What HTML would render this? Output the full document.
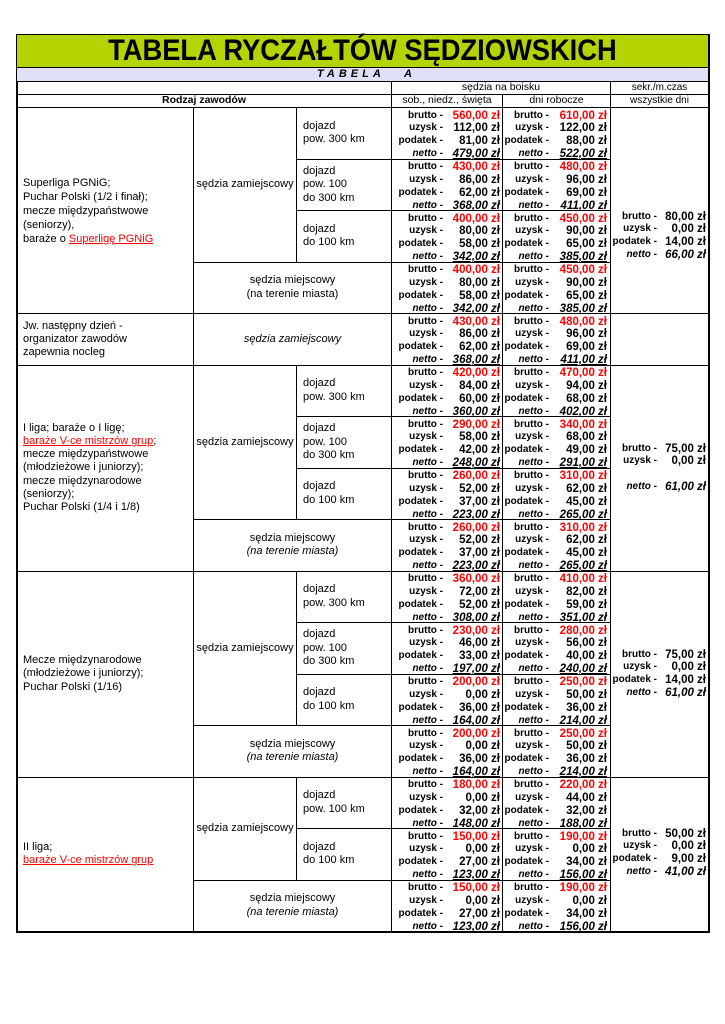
<!DOCTYPE html>
<html><head><meta charset="utf-8"><style>
*{box-sizing:border-box;margin:0;padding:0}
body{width:725px;height:1024px;background:#fff;position:relative;font-family:"Liberation Sans",sans-serif;color:#000;overflow:hidden}
.c{position:absolute;border-right:1.5px solid #000;border-bottom:1.5px solid #000;display:flex;flex-direction:column;justify-content:center;font-size:11px;line-height:13.5px}
.ctr{align-items:center;text-align:center}
.lft{padding-left:6px}
.m{position:absolute;padding-top:1.5px}
.r{display:flex;height:12.9px;line-height:12.9px;white-space:nowrap}
.r b{font-size:10px;text-align:right;display:block}
.r span{flex:1;text-align:right;font-weight:bold;font-size:11.5px}
.m4{width:111px}.m4 b{width:51px}.m4 .r{padding-right:3px}
.m5{width:108px}.m5 b{width:46px}.m5 .r{padding-right:4px}
.m6{width:98px}.m6 b{width:46px}.m6 .r{padding-right:3px}
.red{color:#f00}
.n b{font-style:italic}
.n span{font-style:italic;text-decoration:underline}
.lk{color:#f00;text-decoration:underline}
</style></head><body>
<div style="position:absolute;left:16px;top:34px;width:694px;height:899px;border:2px solid #000"></div>
<div class="c ctr" style="left:17px;top:35px;width:692px;height:33px;background:#b5d300"><div style="font-weight:bold;font-size:30px;line-height:30px;transform:scaleX(0.91);white-space:nowrap">TABELA RYCZAŁTÓW SĘDZIOWSKICH</div></div>
<div class="c" style="left:17px;top:68px;width:692px;height:14px;background:#e0e0f6;font-weight:bold;font-style:italic;font-size:11px"><div style="position:absolute;left:300px;top:0;letter-spacing:4px;line-height:13px">TABELA</div><div style="position:absolute;left:387px;top:0;line-height:13px">A</div></div>
<div class="c" style="left:17px;top:82px;width:375px;height:13px"></div>
<div class="c ctr" style="left:392px;top:82px;width:219px;height:13px;font-size:10.5px">sędzia na boisku</div>
<div class="c ctr" style="left:611px;top:82px;width:98px;height:13px;font-size:10px">sekr./m.czas</div>
<div class="c ctr" style="left:17px;top:95px;width:375px;height:13px;font-weight:bold;font-size:10.5px">Rodzaj zawodów</div>
<div class="c ctr" style="left:392px;top:95px;width:111px;height:13px;font-size:10.5px">sob., niedz., święta</div>
<div class="c ctr" style="left:503px;top:95px;width:108px;height:13px;font-size:10.5px">dni robocze</div>
<div class="c ctr" style="left:611px;top:95px;width:98px;height:13px;font-size:10px">wszystkie dni</div>

<div class="c lft" style="left:17px;top:108px;width:177px;height:206px;line-height:14px">Superliga PGNiG;<br>Puchar Polski (1/2 i finał);<br>mecze międzypaństwowe<br>(seniorzy),<br><span>baraże o <span class="lk">Superligę PGNiG</span></span></div>
<div class="c lft" style="left:17px;top:314px;width:177px;height:51.5px;line-height:13px">Jw. następny dzień -<br>organizator zawodów<br>zapewnia nocleg</div>
<div class="c lft" style="left:17px;top:365.5px;width:177px;height:206px;line-height:13.2px">I liga; baraże o I ligę;<br><span><span class="lk">baraże V-ce mistrzów grup</span>;</span>mecze międzypaństwowe<br>(młodzieżowe i juniorzy);<br>mecze międzynarodowe<br>(seniorzy);<br>Puchar Polski (1/4 i 1/8)</div>
<div class="c lft" style="left:17px;top:571.5px;width:177px;height:206px;line-height:13.5px">Mecze międzynarodowe<br>(młodzieżowe i juniorzy);<br>Puchar Polski (1/16)</div>
<div class="c lft" style="left:17px;top:777.5px;width:177px;height:154.5px;line-height:13px">II liga;<br><span class="lk">baraże V-ce mistrzów grup</span></div>

<div class="c ctr" style="left:194px;top:108px;width:103px;height:154.5px">sędzia zamiejscowy</div>
<div class="c lft" style="left:297px;top:108px;width:95px;height:51.5px">dojazd<br>pow. 300 km</div>
<div class="c lft" style="left:297px;top:159.5px;width:95px;height:51.5px">dojazd<br>pow. 100<br>do 300 km</div>
<div class="c lft" style="left:297px;top:211px;width:95px;height:51.5px">dojazd<br>do 100 km</div>
<div class="c ctr" style="left:194px;top:262.5px;width:198px;height:51.5px">sędzia miejscowy<br>(na terenie miasta)</div>
<div class="c ctr" style="left:194px;top:314px;width:198px;height:51.5px;font-style:italic">sędzia zamiejscowy</div>

<div class="c ctr" style="left:194px;top:365.5px;width:103px;height:154.5px">sędzia zamiejscowy</div>
<div class="c lft" style="left:297px;top:365.5px;width:95px;height:51.5px">dojazd<br>pow. 300 km</div>
<div class="c lft" style="left:297px;top:417px;width:95px;height:51.5px">dojazd<br>pow. 100<br>do 300 km</div>
<div class="c lft" style="left:297px;top:468.5px;width:95px;height:51.5px">dojazd<br>do 100 km</div>
<div class="c ctr" style="left:194px;top:520px;width:198px;height:51.5px">sędzia miejscowy<br><i>(na terenie miasta)</i></div>

<div class="c ctr" style="left:194px;top:571.5px;width:103px;height:154.5px">sędzia zamiejscowy</div>
<div class="c lft" style="left:297px;top:571.5px;width:95px;height:51.5px">dojazd<br>pow. 300 km</div>
<div class="c lft" style="left:297px;top:623px;width:95px;height:51.5px">dojazd<br>pow. 100<br>do 300 km</div>
<div class="c lft" style="left:297px;top:674.5px;width:95px;height:51.5px">dojazd<br>do 100 km</div>
<div class="c ctr" style="left:194px;top:726px;width:198px;height:51.5px">sędzia miejscowy<br><i>(na terenie miasta)</i></div>

<div class="c ctr" style="left:194px;top:777.5px;width:103px;height:103px">sędzia zamiejscowy</div>
<div class="c lft" style="left:297px;top:777.5px;width:95px;height:51.5px">dojazd<br>pow. 100 km</div>
<div class="c lft" style="left:297px;top:829px;width:95px;height:51.5px">dojazd<br>do 100 km</div>
<div class="c ctr" style="left:194px;top:880.5px;width:198px;height:51.5px">sędzia miejscowy<br><i>(na terenie miasta)</i></div>

<div class="c" style="left:392px;top:108px;width:111px;height:51.5px"></div><div class="c" style="left:503px;top:108px;width:108px;height:51.5px"></div>
<div class="c" style="left:392px;top:159.5px;width:111px;height:51.5px"></div><div class="c" style="left:503px;top:159.5px;width:108px;height:51.5px"></div>
<div class="c" style="left:392px;top:211px;width:111px;height:51.5px"></div><div class="c" style="left:503px;top:211px;width:108px;height:51.5px"></div>
<div class="c" style="left:392px;top:262.5px;width:111px;height:51.5px"></div><div class="c" style="left:503px;top:262.5px;width:108px;height:51.5px"></div>
<div class="c" style="left:392px;top:314px;width:111px;height:51.5px"></div><div class="c" style="left:503px;top:314px;width:108px;height:51.5px"></div>
<div class="c" style="left:392px;top:365.5px;width:111px;height:51.5px"></div><div class="c" style="left:503px;top:365.5px;width:108px;height:51.5px"></div>
<div class="c" style="left:392px;top:417px;width:111px;height:51.5px"></div><div class="c" style="left:503px;top:417px;width:108px;height:51.5px"></div>
<div class="c" style="left:392px;top:468.5px;width:111px;height:51.5px"></div><div class="c" style="left:503px;top:468.5px;width:108px;height:51.5px"></div>
<div class="c" style="left:392px;top:520px;width:111px;height:51.5px"></div><div class="c" style="left:503px;top:520px;width:108px;height:51.5px"></div>
<div class="c" style="left:392px;top:571.5px;width:111px;height:51.5px"></div><div class="c" style="left:503px;top:571.5px;width:108px;height:51.5px"></div>
<div class="c" style="left:392px;top:623px;width:111px;height:51.5px"></div><div class="c" style="left:503px;top:623px;width:108px;height:51.5px"></div>
<div class="c" style="left:392px;top:674.5px;width:111px;height:51.5px"></div><div class="c" style="left:503px;top:674.5px;width:108px;height:51.5px"></div>
<div class="c" style="left:392px;top:726px;width:111px;height:51.5px"></div><div class="c" style="left:503px;top:726px;width:108px;height:51.5px"></div>
<div class="c" style="left:392px;top:777.5px;width:111px;height:51.5px"></div><div class="c" style="left:503px;top:777.5px;width:108px;height:51.5px"></div>
<div class="c" style="left:392px;top:829px;width:111px;height:51.5px"></div><div class="c" style="left:503px;top:829px;width:108px;height:51.5px"></div>
<div class="c" style="left:392px;top:880.5px;width:111px;height:51.5px"></div><div class="c" style="left:503px;top:880.5px;width:108px;height:51.5px"></div>
<div class="c" style="left:611px;top:108px;width:98px;height:206px"></div>
<div class="c" style="left:611px;top:314px;width:98px;height:51.5px"></div>
<div class="c" style="left:611px;top:365.5px;width:98px;height:206px"></div>
<div class="c" style="left:611px;top:571.5px;width:98px;height:206px"></div>
<div class="c" style="left:611px;top:777.5px;width:98px;height:154.5px"></div>

<div class="m m4" style="left:392px;top:108px"><div class="r"><b>brutto -</b><span class="red">560,00 zł</span></div><div class="r"><b>uzysk -</b><span>112,00 zł</span></div><div class="r"><b>podatek -</b><span>81,00 zł</span></div><div class="r n"><b>netto -</b><span>479,00 zł</span></div></div>
<div class="m m5" style="left:503px;top:108px"><div class="r"><b>brutto -</b><span class="red">610,00 zł</span></div><div class="r"><b>uzysk -</b><span>122,00 zł</span></div><div class="r"><b>podatek -</b><span>88,00 zł</span></div><div class="r n"><b>netto -</b><span>522,00 zł</span></div></div>
<div class="m m4" style="left:392px;top:159.5px"><div class="r"><b>brutto -</b><span class="red">430,00 zł</span></div><div class="r"><b>uzysk -</b><span>86,00 zł</span></div><div class="r"><b>podatek -</b><span>62,00 zł</span></div><div class="r n"><b>netto -</b><span>368,00 zł</span></div></div>
<div class="m m5" style="left:503px;top:159.5px"><div class="r"><b>brutto -</b><span class="red">480,00 zł</span></div><div class="r"><b>uzysk -</b><span>96,00 zł</span></div><div class="r"><b>podatek -</b><span>69,00 zł</span></div><div class="r n"><b>netto -</b><span>411,00 zł</span></div></div>
<div class="m m4" style="left:392px;top:211px"><div class="r"><b>brutto -</b><span class="red">400,00 zł</span></div><div class="r"><b>uzysk -</b><span>80,00 zł</span></div><div class="r"><b>podatek -</b><span>58,00 zł</span></div><div class="r n"><b>netto -</b><span>342,00 zł</span></div></div>
<div class="m m5" style="left:503px;top:211px"><div class="r"><b>brutto -</b><span class="red">450,00 zł</span></div><div class="r"><b>uzysk -</b><span>90,00 zł</span></div><div class="r"><b>podatek -</b><span>65,00 zł</span></div><div class="r n"><b>netto -</b><span>385,00 zł</span></div></div>
<div class="m m4" style="left:392px;top:262.5px"><div class="r"><b>brutto -</b><span class="red">400,00 zł</span></div><div class="r"><b>uzysk -</b><span>80,00 zł</span></div><div class="r"><b>podatek -</b><span>58,00 zł</span></div><div class="r n"><b>netto -</b><span>342,00 zł</span></div></div>
<div class="m m5" style="left:503px;top:262.5px"><div class="r"><b>brutto -</b><span class="red">450,00 zł</span></div><div class="r"><b>uzysk -</b><span>90,00 zł</span></div><div class="r"><b>podatek -</b><span>65,00 zł</span></div><div class="r n"><b>netto -</b><span>385,00 zł</span></div></div>
<div class="m m4" style="left:392px;top:314px"><div class="r"><b>brutto -</b><span class="red">430,00 zł</span></div><div class="r"><b>uzysk -</b><span>86,00 zł</span></div><div class="r"><b>podatek -</b><span>62,00 zł</span></div><div class="r n"><b>netto -</b><span>368,00 zł</span></div></div>
<div class="m m5" style="left:503px;top:314px"><div class="r"><b>brutto -</b><span class="red">480,00 zł</span></div><div class="r"><b>uzysk -</b><span>96,00 zł</span></div><div class="r"><b>podatek -</b><span>69,00 zł</span></div><div class="r n"><b>netto -</b><span>411,00 zł</span></div></div>
<div class="m m4" style="left:392px;top:365.5px"><div class="r"><b>brutto -</b><span class="red">420,00 zł</span></div><div class="r"><b>uzysk -</b><span>84,00 zł</span></div><div class="r"><b>podatek -</b><span>60,00 zł</span></div><div class="r n"><b>netto -</b><span>360,00 zł</span></div></div>
<div class="m m5" style="left:503px;top:365.5px"><div class="r"><b>brutto -</b><span class="red">470,00 zł</span></div><div class="r"><b>uzysk -</b><span>94,00 zł</span></div><div class="r"><b>podatek -</b><span>68,00 zł</span></div><div class="r n"><b>netto -</b><span>402,00 zł</span></div></div>
<div class="m m4" style="left:392px;top:417px"><div class="r"><b>brutto -</b><span class="red">290,00 zł</span></div><div class="r"><b>uzysk -</b><span>58,00 zł</span></div><div class="r"><b>podatek -</b><span>42,00 zł</span></div><div class="r n"><b>netto -</b><span>248,00 zł</span></div></div>
<div class="m m5" style="left:503px;top:417px"><div class="r"><b>brutto -</b><span class="red">340,00 zł</span></div><div class="r"><b>uzysk -</b><span>68,00 zł</span></div><div class="r"><b>podatek -</b><span>49,00 zł</span></div><div class="r n"><b>netto -</b><span>291,00 zł</span></div></div>
<div class="m m4" style="left:392px;top:468.5px"><div class="r"><b>brutto -</b><span class="red">260,00 zł</span></div><div class="r"><b>uzysk -</b><span>52,00 zł</span></div><div class="r"><b>podatek -</b><span>37,00 zł</span></div><div class="r n"><b>netto -</b><span>223,00 zł</span></div></div>
<div class="m m5" style="left:503px;top:468.5px"><div class="r"><b>brutto -</b><span class="red">310,00 zł</span></div><div class="r"><b>uzysk -</b><span>62,00 zł</span></div><div class="r"><b>podatek -</b><span>45,00 zł</span></div><div class="r n"><b>netto -</b><span>265,00 zł</span></div></div>
<div class="m m4" style="left:392px;top:520px"><div class="r"><b>brutto -</b><span class="red">260,00 zł</span></div><div class="r"><b>uzysk -</b><span>52,00 zł</span></div><div class="r"><b>podatek -</b><span>37,00 zł</span></div><div class="r n"><b>netto -</b><span>223,00 zł</span></div></div>
<div class="m m5" style="left:503px;top:520px"><div class="r"><b>brutto -</b><span class="red">310,00 zł</span></div><div class="r"><b>uzysk -</b><span>62,00 zł</span></div><div class="r"><b>podatek -</b><span>45,00 zł</span></div><div class="r n"><b>netto -</b><span>265,00 zł</span></div></div>
<div class="m m4" style="left:392px;top:571.5px"><div class="r"><b>brutto -</b><span class="red">360,00 zł</span></div><div class="r"><b>uzysk -</b><span>72,00 zł</span></div><div class="r"><b>podatek -</b><span>52,00 zł</span></div><div class="r n"><b>netto -</b><span>308,00 zł</span></div></div>
<div class="m m5" style="left:503px;top:571.5px"><div class="r"><b>brutto -</b><span class="red">410,00 zł</span></div><div class="r"><b>uzysk -</b><span>82,00 zł</span></div><div class="r"><b>podatek -</b><span>59,00 zł</span></div><div class="r n"><b>netto -</b><span>351,00 zł</span></div></div>
<div class="m m4" style="left:392px;top:623px"><div class="r"><b>brutto -</b><span class="red">230,00 zł</span></div><div class="r"><b>uzysk -</b><span>46,00 zł</span></div><div class="r"><b>podatek -</b><span>33,00 zł</span></div><div class="r n"><b>netto -</b><span>197,00 zł</span></div></div>
<div class="m m5" style="left:503px;top:623px"><div class="r"><b>brutto -</b><span class="red">280,00 zł</span></div><div class="r"><b>uzysk -</b><span>56,00 zł</span></div><div class="r"><b>podatek -</b><span>40,00 zł</span></div><div class="r n"><b>netto -</b><span>240,00 zł</span></div></div>
<div class="m m4" style="left:392px;top:674.5px"><div class="r"><b>brutto -</b><span class="red">200,00 zł</span></div><div class="r"><b>uzysk -</b><span>0,00 zł</span></div><div class="r"><b>podatek -</b><span>36,00 zł</span></div><div class="r n"><b>netto -</b><span>164,00 zł</span></div></div>
<div class="m m5" style="left:503px;top:674.5px"><div class="r"><b>brutto -</b><span class="red">250,00 zł</span></div><div class="r"><b>uzysk -</b><span>50,00 zł</span></div><div class="r"><b>podatek -</b><span>36,00 zł</span></div><div class="r n"><b>netto -</b><span>214,00 zł</span></div></div>
<div class="m m4" style="left:392px;top:726px"><div class="r"><b>brutto -</b><span class="red">200,00 zł</span></div><div class="r"><b>uzysk -</b><span>0,00 zł</span></div><div class="r"><b>podatek -</b><span>36,00 zł</span></div><div class="r n"><b>netto -</b><span>164,00 zł</span></div></div>
<div class="m m5" style="left:503px;top:726px"><div class="r"><b>brutto -</b><span class="red">250,00 zł</span></div><div class="r"><b>uzysk -</b><span>50,00 zł</span></div><div class="r"><b>podatek -</b><span>36,00 zł</span></div><div class="r n"><b>netto -</b><span>214,00 zł</span></div></div>
<div class="m m4" style="left:392px;top:777.5px"><div class="r"><b>brutto -</b><span class="red">180,00 zł</span></div><div class="r"><b>uzysk -</b><span>0,00 zł</span></div><div class="r"><b>podatek -</b><span>32,00 zł</span></div><div class="r n"><b>netto -</b><span>148,00 zł</span></div></div>
<div class="m m5" style="left:503px;top:777.5px"><div class="r"><b>brutto -</b><span class="red">220,00 zł</span></div><div class="r"><b>uzysk -</b><span>44,00 zł</span></div><div class="r"><b>podatek -</b><span>32,00 zł</span></div><div class="r n"><b>netto -</b><span>188,00 zł</span></div></div>
<div class="m m4" style="left:392px;top:829px"><div class="r"><b>brutto -</b><span class="red">150,00 zł</span></div><div class="r"><b>uzysk -</b><span>0,00 zł</span></div><div class="r"><b>podatek -</b><span>27,00 zł</span></div><div class="r n"><b>netto -</b><span>123,00 zł</span></div></div>
<div class="m m5" style="left:503px;top:829px"><div class="r"><b>brutto -</b><span class="red">190,00 zł</span></div><div class="r"><b>uzysk -</b><span>0,00 zł</span></div><div class="r"><b>podatek -</b><span>34,00 zł</span></div><div class="r n"><b>netto -</b><span>156,00 zł</span></div></div>
<div class="m m4" style="left:392px;top:880.5px"><div class="r"><b>brutto -</b><span class="red">150,00 zł</span></div><div class="r"><b>uzysk -</b><span>0,00 zł</span></div><div class="r"><b>podatek -</b><span>27,00 zł</span></div><div class="r n"><b>netto -</b><span>123,00 zł</span></div></div>
<div class="m m5" style="left:503px;top:880.5px"><div class="r"><b>brutto -</b><span class="red">190,00 zł</span></div><div class="r"><b>uzysk -</b><span>0,00 zł</span></div><div class="r"><b>podatek -</b><span>34,00 zł</span></div><div class="r n"><b>netto -</b><span>156,00 zł</span></div></div>

<div class="m m6" style="left:611px;top:209px"><div class="r"><b>brutto -</b><span>80,00 zł</span></div><div class="r"><b>uzysk -</b><span>0,00 zł</span></div><div class="r"><b>podatek -</b><span>14,00 zł</span></div><div class="r n"><b>netto -</b><span style="text-decoration:none">66,00 zł</span></div></div>
<div class="m m6" style="left:611px;top:441px"><div class="r"><b>brutto -</b><span>75,00 zł</span></div><div class="r"><b>uzysk -</b><span>0,00 zł</span></div><div class="r"></div><div class="r n"><b>netto -</b><span style="text-decoration:none">61,00 zł</span></div></div>
<div class="m m6" style="left:611px;top:647px"><div class="r"><b>brutto -</b><span>75,00 zł</span></div><div class="r"><b>uzysk -</b><span>0,00 zł</span></div><div class="r"><b>podatek -</b><span>14,00 zł</span></div><div class="r n"><b>netto -</b><span style="text-decoration:none">61,00 zł</span></div></div>
<div class="m m6" style="left:611px;top:826px"><div class="r"><b>brutto -</b><span>50,00 zł</span></div><div class="r"><b>uzysk -</b><span>0,00 zł</span></div><div class="r"><b>podatek -</b><span>9,00 zł</span></div><div class="r n"><b>netto -</b><span style="text-decoration:none">41,00 zł</span></div></div>
</body></html>
